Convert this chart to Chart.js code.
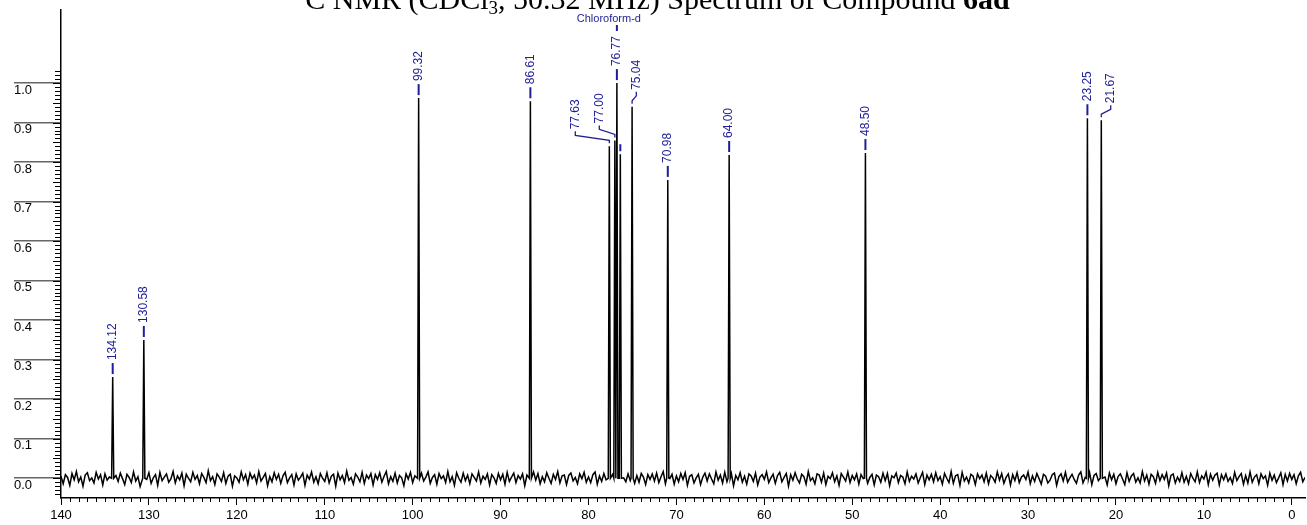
<!DOCTYPE html>
<html>
<head>
<meta charset="utf-8">
<script src="https://cdn.jsdelivr.net/npm/chart.js@4.4.1/dist/chart.umd.min.js"></script>
<style>
  html, body { margin: 0; padding: 0; background: #fff; }
  #wrap { width: 1307px; height: 525px; position: relative; }
</style>
</head>
<body>
<div id="wrap"><canvas id="c" width="1307" height="525"></canvas></div>
<script>
// ---- data ----
const xTicks = [140, 130, 120, 110, 100, 90, 80, 70, 60, 50, 40, 30, 20, 10, 0];
const yTicks = [0.0, 0.1, 0.2, 0.3, 0.4, 0.5, 0.6, 0.7, 0.8, 0.9, 1.0];

const peakPpm    = [134.12, 130.58, 99.32, 86.61, 77.63, 77.00, 76.77, 76.38, 75.04, 70.98, 64.00, 48.50, 23.25, 21.67];
const peakHeight = [0.256,  0.350,  0.962, 0.954, 0.840, 0.855, 1.000, 0.820, 0.940, 0.755, 0.818, 0.823, 0.911, 0.906];
const peakLabel  = ['134.12','130.58','99.32','86.61','77.63','77.00','76.77','','75.04','70.98','64.00','48.50','23.25','21.67'];
const labelTextPpm = [134.12, 130.58, 99.32, 86.61, 81.50, 78.77, 76.77, 76.38, 74.56, 70.98, 64.00, 48.50, 23.25, 20.60];
const solventLabel = 'Chloroform-d';
const solventPpm = 76.77;

// baseline noise (in thousandths of the intensity unit), sampled every 0.25 ppm from 140 down to -1.5
const noiseStartPpm = 140, noiseStepPpm = 0.25;
const noiseMilli = [
 5,-14,9,2,-18,12,-4,17,-9,3,
 -20,8,14,-6,1,-12,15,-2,9,-17,
 11,-5,3,19,-14,7,-8,13,-1,-16,
 10,2,-11,16,-7,4,-21,12,6,-3,
 14,-13,1,9,-18,15,-6,3,11,-10,
 -2,17,-12,6,-4,13,-19,10,0,-9,
 15,-3,7,-14,12,2,-11,19,-6,4,
 -16,11,3,-8,14,-13,5,10,-20,6,
 1,-10,16,-4,9,-15,13,-1,8,-12,
 17,-7,2,12,-19,4,-9,14,-3,10,
 -13,6,15,-11,1,9,-17,11,-5,3,
 13,-18,8,-2,16,-10,4,-14,12,0,
 -8,14,-12,5,10,-20,13,-4,7,-11,
 18,-5,2,-15,11,3,-9,15,-13,8,
 -1,12,-17,9,-3,14,-10,5,17,-14,
 4,-8,13,-12,7,1,-19,11,-2,15,
 -11,6,10,-16,13,-7,3,16,-13,2,
 9,-15,12,-1,6,-11,17,-9,4,-18,
 14,0,-10,13,-6,8,-14,11,2,-7,
 16,-12,5,-3,11,-17,9,1,-13,12,
 -4,10,-15,15,-8,3,13,-11,7,-2,
 11,-19,8,2,-10,16,-5,12,-14,4,
 -9,14,0,-13,10,-3,17,-12,6,8,
 -16,7,13,-7,2,-14,11,-1,15,-10,
 3,-11,9,16,-15,6,-8,12,-4,13,
 -17,10,-2,8,-12,14,1,-9,11,-6,
 15,-13,7,-10,12,3,-16,9,-3,11,
 -7,13,-11,4,17,-14,8,-1,10,-15,
 6,-9,12,-3,14,-18,5,9,-12,1,
 10,-16,3,13,-7,11,-2,-14,16,-5,
 8,-12,15,-9,2,12,-19,7,-4,14,
 -10,5,-15,11,6,-8,13,-17,3,9,
 -3,16,-11,1,10,-13,7,15,-9,2,
 12,-20,9,-5,14,-2,-12,10,4,-15,
 17,-6,1,-14,11,8,-10,13,-16,5,
 -1,14,-9,6,-18,12,3,-7,16,-11,
 7,-4,11,-15,9,-1,15,-13,2,10,
 -17,8,4,-10,13,-6,12,-19,6,1,
 13,-11,7,3,-14,16,-8,5,-2,11,
 -12,2,15,-16,8,-4,10,-9,14,-6,
 4,-15,12,0,-11,17,-13,6,9,-18,
 15,-7,3,-12,10,5,-16,11,-1,8,
 -9,13,-14,7,1,-10,16,-5,12,-13,
 2,11,-17,9,-6,14,-11,3,8,-3,
 16,-14,6,-8,12,-1,-15,10,5,-12,
 -5,9,13,-18,4,11,-7,15,-10,1,
 10,-3,-13,8,16,-12,2,-9,14,-16,
 7,12,-6,-11,9,3,-17,13,-4,10,
 -14,5,11,-2,-16,14,-8,6,12,-10,
 1,-12,17,-7,8,-15,10,4,-13,15,
 -6,9,-3,13,-19,7,11,-12,3,-8,
 14,-10,5,-14,12,0,-9,16,-11,6,
 -2,15,-16,10,-5,8,13,-17,9,-4,
 11,-8,2,-13,15,-6,4,12,-15,7,
 -12,16,-10,3,9,-14,11,-1,6,-18,
 13,-5,8,-11,1,14,-16,10,-7,12,
 -3,9,-14,6,15,-9,2
];

// ---- build the trace ----
const PEAK_HALF = 0.12;
const pts = [];
noiseMilli.forEach((v, i) => {
  const x = noiseStartPpm - i * noiseStepPpm;
  if (peakPpm.some(p => Math.abs(p - x) < 0.2)) return;
  pts.push({x: x, y: v / 1000});
});
peakPpm.forEach((p, i) => {
  pts.push({x: p + PEAK_HALF, y: 0});
  pts.push({x: p, y: peakHeight[i]});
  pts.push({x: p - PEAK_HALF, y: 0});
});
pts.sort((a, b) => b.x - a.x);

const BLUE = '#1e1e96';
const FONT = '"Liberation Sans", Arial, sans-serif';

const decorPlugin = {
  id: 'decor',
  afterDatasetsDraw(chart) {
    const ctx = chart.ctx;
    const xs = chart.scales.x, ys = chart.scales.y;
    const area = chart.chartArea;
    ctx.save();
    // y minor ticks
    ctx.strokeStyle = '#000';
    ctx.lineWidth = 1;
    for (let k = -4; k <= 103; k++) {
      const py = Math.round(ys.getPixelForValue(k / 100)) + 0.5;
      const len = (k % 5 === 0) ? 8 : 6;
      ctx.beginPath();
      ctx.moveTo(area.left - len, py);
      ctx.lineTo(area.left, py);
      ctx.stroke();
    }
    // x minor ticks
    for (let k = 0; k <= 140; k++) {
      if (k % 10 === 0) continue;
      const px = Math.round(xs.getPixelForValue(k)) + 0.5;
      ctx.beginPath();
      ctx.moveTo(px, area.bottom);
      ctx.lineTo(px, area.bottom + 4);
      ctx.stroke();
    }
    // peak labels
    ctx.font = '12px ' + FONT;
    ctx.fillStyle = BLUE;
    ctx.strokeStyle = BLUE;
    peakPpm.forEach((p, i) => {
      const px = xs.getPixelForValue(p);
      const top = ys.getPixelForValue(peakHeight[i]);
      const tx = xs.getPixelForValue(labelTextPpm[i]);
      ctx.beginPath();
      if (Math.abs(tx - px) < 0.5) {
        ctx.lineWidth = 2;
        ctx.moveTo(px, top - 3);
        ctx.lineTo(px, top - (peakLabel[i] ? 14 : 10));
      } else {
        ctx.lineWidth = 1.3;
        ctx.moveTo(px, top - 3);
        ctx.lineTo(px, top - 6);
        ctx.lineTo(tx, top - 11);
        ctx.lineTo(tx, top - 15);
      }
      ctx.stroke();
      if (peakLabel[i]) {
        ctx.save();
        ctx.translate(tx, top - 17);
        ctx.rotate(-Math.PI / 2);
        ctx.textAlign = 'left';
        ctx.textBaseline = 'middle';
        ctx.fillText(peakLabel[i], 0, 0);
        ctx.restore();
      }
    });
    // solvent label
    const sx = xs.getPixelForValue(solventPpm);
    ctx.lineWidth = 2;
    ctx.beginPath();
    ctx.moveTo(sx, 25);
    ctx.lineTo(sx, 31);
    ctx.stroke();
    ctx.font = '11px ' + FONT;
    ctx.textAlign = 'center';
    ctx.textBaseline = 'middle';
    ctx.fillText(solventLabel, sx - 8, 19);

    // title (clipped at top as in the reference)
    const segs = [
      {t: '13', sup: true},
      {t: 'C NMR (CDCl'},
      {t: '3', sub: true},
      {t: ', 50.32 MHz) Spectrum of Compound '},
      {t: '6ad', bold: true}
    ];
    const fs = 30;
    const fam = '"Liberation Serif", "Times New Roman", serif';
    const fontFor = s => (s.bold ? 'bold ' : '') + ((s.sup || s.sub) ? Math.round(fs * 0.62) : fs) + 'px ' + fam;
    let total = 0;
    segs.forEach(s => { ctx.font = fontFor(s); s.w = ctx.measureText(s.t).width; total += s.w; });
    let x = 648 - total / 2;
    const base = 9;
    ctx.fillStyle = '#000';
    ctx.textAlign = 'left';
    ctx.textBaseline = 'alphabetic';
    segs.forEach(s => {
      ctx.font = fontFor(s);
      const yy = s.sup ? base - fs * 0.38 : (s.sub ? base + fs * 0.18 : base);
      ctx.fillText(s.t, x, yy);
      x += s.w;
    });
    ctx.restore();
  }
};

new Chart(document.getElementById('c'), {
  type: 'line',
  data: {
    datasets: [{
      data: pts,
      borderColor: '#000',
      borderWidth: 1.5,
      pointRadius: 0,
      tension: 0,
      fill: false
    }]
  },
  options: {
    responsive: false,
    animation: false,
    events: [],
    layout: { padding: { left: 14, right: 2, top: 10, bottom: 0 } },
    plugins: { legend: { display: false }, tooltip: { enabled: false }, title: { display: false } },
    scales: {
      x: {
        type: 'linear',
        reverse: true,
        min: -1.5,
        max: 140,
        afterBuildTicks: s => { s.ticks = xTicks.map(v => ({value: v})); },
        afterFit: s => { s.height = 27; },
        grid: { drawOnChartArea: false, tickLength: 7, color: '#000', lineWidth: 1 },
        border: { display: true, color: '#000', width: 1.5 },
        ticks: { color: '#000', font: { size: 13, family: FONT }, padding: 3, maxRotation: 0, autoSkip: false,
                 callback: v => String(v) }
      },
      y: {
        type: 'linear',
        min: -0.05,
        max: 1.185,
        afterBuildTicks: s => { s.ticks = yTicks.map(v => ({value: v})); },
        afterFit: s => { s.width = 47; },
        grid: { drawOnChartArea: false, tickLength: 47, color: '#666', lineWidth: 1.5 },
        border: { display: true, color: '#000', width: 1.5 },
        ticks: { color: '#000', font: { size: 13, family: FONT }, crossAlign: 'far', labelOffset: 7,
                 padding: 0, autoSkip: false, callback: v => v.toFixed(1) }
      }
    }
  },
  plugins: [decorPlugin]
});
</script>
</body>
</html>
